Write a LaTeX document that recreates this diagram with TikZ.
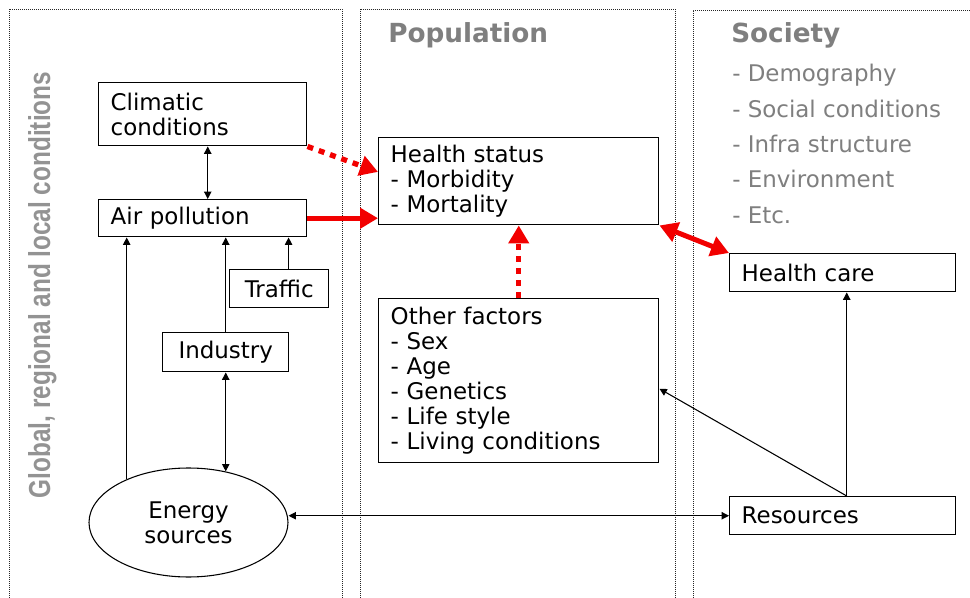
\documentclass[tikz,border=0pt]{standalone}
\usepackage{fontspec}
\usepackage{graphicx}
\setmainfont{DejaVu Sans}
\newfontfamily\narrowfont{Liberation Sans}
\usetikzlibrary{arrows.meta,shapes.geometric}
\definecolor{titlegray}{HTML}{7F7F7F}
\definecolor{sidegray}{HTML}{939393}
\definecolor{arrowred}{HTML}{F20000}
\newcommand{\bodyfont}{\fontsize{17.2}{18.75}\selectfont}
\newcommand{\headfont}{\fontsize{19.7}{22}\selectfont\bfseries}
\begin{document}
\begin{tikzpicture}[x=0.75pt,y=-0.75pt,
  box/.style={draw, line width=1.1pt, anchor=north west, inner xsep=9pt, inner ysep=0pt, font=\bodyfont, align=left},
  cbox/.style={draw, line width=1.1pt, anchor=north west, inner sep=0pt, font=\bodyfont, align=center},
  panel/.style={draw=black!85, line width=0.7pt, dash pattern=on 0.7pt off 0.8pt},
  blk/.style={line width=0.8pt, >={Triangle[length=5.5pt,width=5.5pt]}},
  redsolid/.style={draw=arrowred, line width=3.75pt, arrows={-{Triangle[length=13.5pt,width=15pt]}}, arrowred},
  reddot/.style={redsolid, dash pattern=on 4.5pt off 4.5pt, line width=4pt},
  graytxt/.style={anchor=base west, inner sep=0pt, text=titlegray}]
\useasboundingbox (0,0) rectangle (970,598);
\fill[white] (0,0) rectangle (970,598);
\begin{scope}
  \clip (0,0) rectangle (970,598);
  \draw[panel] (9,610) |- (342,9) -- (342,610);
  \draw[panel] (360,610) |- (675,9) -- (675,610);
  \draw[panel] (693,610) |- (985,10);
\end{scope}

% side label
\node[rotate=90, anchor=base, inner sep=0pt, text=sidegray] (side) at (50,285)
  {\resizebox{319.5pt}{16.5pt}{\narrowfont\bfseries Global, regional and local conditions}};

% titles
\node[graytxt, font=\headfont] (pop) at (388,43) {Population};
\node[graytxt, font=\headfont] (soc) at (731,43) {Society};
\foreach \t [count=\i] in {Demography, Social conditions, Infra structure, Environment, Etc.}
  \node[graytxt, font=\bodyfont] (s\i) at (732,{82+35.3*(\i-1)}) {- \t};

% boxes
\node[box, minimum width=156pt, minimum height=47.25pt, text width=138pt] (clim) at (98,82) {Climatic\\conditions};
\node[box, minimum width=156pt, minimum height=27.75pt, text width=138pt] (air) at (98,199) {Air pollution};
\node[cbox, minimum width=74.25pt, minimum height=28.5pt] (traf) at (229,269) {Traffic};
\node[cbox, minimum width=94.5pt, minimum height=29.25pt] (ind) at (162,332) {Industry};
\node[box, minimum width=210pt, minimum height=65.25pt, text width=192pt] (hs) at (378,137) {Health status\\- Morbidity\\- Mortality};
\node[box, minimum width=210pt, minimum height=123pt, text width=192pt] (of) at (378,298) {Other factors\\- Sex\\- Age\\- Genetics\\- Life style\\- Living conditions};
\node[box, minimum width=169.5pt, minimum height=28.5pt, text width=151.5pt] (hc) at (729,253) {Health care};
\node[box, minimum width=169.5pt, minimum height=28.5pt, text width=151.5pt] (res) at (729,496) {Resources};
\node[ellipse, draw, line width=0.8pt, minimum width=149.25pt, minimum height=81.75pt, inner sep=0pt, font=\bodyfont, align=center] (en) at (188.5,522.5) {Energy\\sources};

% black connectors
\draw[blk, <->] ([xshift=3.75pt]clim.south) -- ([xshift=3.75pt]air.north);
\draw[blk, ->] (en.145.8) -- (en.145.8 |- air.south);
\draw[blk, ->] (ind.north) -- (ind.north |- air.south);
\draw[blk, ->] ([xshift=7pt]traf.north) -- ([xshift=7pt]traf.north |- air.south);
\draw[blk, <->] (ind.south) -- (ind.south |- en.54.2);
\draw[blk, <->] (en.east |- res.west) -- (res.west);
\draw[blk, ->] ([xshift=3pt]res.north) -- ([xshift=3pt]hc.south);
\draw[blk, ->] ([xshift=3pt]res.north) -- ([yshift=-6pt]of.east);

% red connectors
\draw[reddot] (clim.south east) -- ([yshift=7pt]hs.west);
\draw[redsolid] (air.east) -- (air.east -| hs.west);
\draw[reddot] (of.north) -- (hs.south);
\draw[redsolid, arrows={{Triangle[length=13.5pt,width=15pt]}-{Triangle[length=13.5pt,width=15pt]}}] (hs.south east) -- (hc.north west);
\end{tikzpicture}
\end{document}
